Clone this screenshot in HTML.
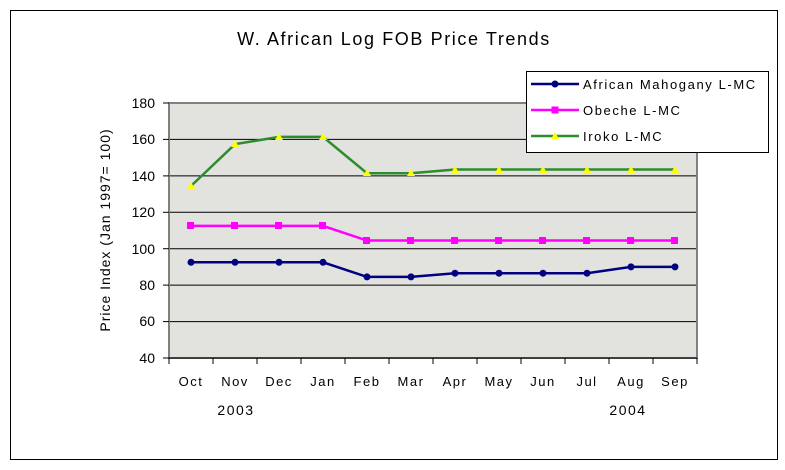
<!DOCTYPE html>
<html><head><style>body{margin:0;background:#fff}svg{display:block;font-family:"Liberation Sans",sans-serif}</style></head><body>
<svg width="785" height="470" xmlns="http://www.w3.org/2000/svg">
<rect x="0" y="0" width="785" height="470" fill="#fff"/>
<rect x="10.5" y="10.5" width="767" height="449" fill="none" stroke="#000"/>
<text x="394" y="45" font-size="18" text-anchor="middle" letter-spacing="1.6">W. African Log FOB Price Trends</text>
<rect x="169" y="103" width="528" height="255" fill="#e2e3df"/>
<g stroke="#000" stroke-width="1">
<line x1="169" y1="139.4" x2="697" y2="139.4"/><line x1="169" y1="175.9" x2="697" y2="175.9"/>
<line x1="169" y1="212.3" x2="697" y2="212.3"/><line x1="169" y1="248.7" x2="697" y2="248.7"/>
<line x1="169" y1="285.1" x2="697" y2="285.1"/><line x1="169" y1="321.6" x2="697" y2="321.6"/>
</g>
<rect x="169" y="103" width="528" height="255" fill="none" stroke="#808080" stroke-width="2"/>
<g stroke="#000"><line x1="163" y1="103" x2="169" y2="103"/><line x1="163" y1="139.4" x2="169" y2="139.4"/><line x1="163" y1="175.9" x2="169" y2="175.9"/><line x1="163" y1="212.3" x2="169" y2="212.3"/><line x1="163" y1="248.7" x2="169" y2="248.7"/><line x1="163" y1="285.1" x2="169" y2="285.1"/><line x1="163" y1="321.6" x2="169" y2="321.6"/><line x1="163" y1="358" x2="169" y2="358"/>
<line x1="169" y1="358" x2="697" y2="358"/>
<path d="M169 358v6M213 358v6M257 358v6M301 358v6M345 358v6M389 358v6M433 358v6M477 358v6M521 358v6M565 358v6M609 358v6M653 358v6M697 358v6"/></g>
<g font-size="14" text-anchor="end"><text x="155" y="108">180</text><text x="155" y="144">160</text><text x="155" y="181">140</text><text x="155" y="217">120</text><text x="155" y="254">100</text><text x="155" y="290">80</text><text x="155" y="326">60</text><text x="155" y="363">40</text></g>
<g font-size="13" text-anchor="middle" letter-spacing="1.5"><text x="191" y="386">Oct</text><text x="235" y="386">Nov</text><text x="279" y="386">Dec</text><text x="323" y="386">Jan</text><text x="367" y="386">Feb</text><text x="411" y="386">Mar</text><text x="455" y="386">Apr</text><text x="499" y="386">May</text><text x="543" y="386">Jun</text><text x="587" y="386">Jul</text><text x="631" y="386">Aug</text><text x="675" y="386">Sep</text>
<text x="236" y="415" font-size="14">2003</text><text x="628" y="415" font-size="14">2004</text></g>
<text transform="translate(110,230) rotate(-90)" font-size="14" text-anchor="middle" letter-spacing="1">Price Index (Jan 1997= 100)</text>
<polyline fill="none" stroke="#2e8b2e" stroke-width="2.5" points="191,186 235,144.2 279,136.9 323,136.9 367,173.2 411,173.2 455,169.5 499,169.5 543,169.5 587,169.5 631,169.5 675,169.5"/>
<g fill="#ffff00"><path d="M191,182l-4,7h8zM235,140l-4,7h8zM279,133l-4,7h8zM323,133l-4,7h8zM367,169l-4,7h8zM411,169l-4,7h8zM455,166l-4,7h8zM499,166l-4,7h8zM543,166l-4,7h8zM587,166l-4,7h8zM631,166l-4,7h8zM675,166l-4,7h8z"/></g>
<polyline fill="none" stroke="#ff00ff" stroke-width="2.5" points="191,225.9 235,225.9 279,225.9 323,225.9 367,240.5 411,240.5 455,240.5 499,240.5 543,240.5 587,240.5 631,240.5 675,240.5"/>
<g fill="#ff00ff"><rect x="187" y="222" width="7" height="7"/><rect x="231" y="222" width="7" height="7"/><rect x="275" y="222" width="7" height="7"/><rect x="319" y="222" width="7" height="7"/><rect x="363" y="237" width="7" height="7"/><rect x="407" y="237" width="7" height="7"/><rect x="451" y="237" width="7" height="7"/><rect x="495" y="237" width="7" height="7"/><rect x="539" y="237" width="7" height="7"/><rect x="583" y="237" width="7" height="7"/><rect x="627" y="237" width="7" height="7"/><rect x="671" y="237" width="7" height="7"/></g>
<polyline fill="none" stroke="#000080" stroke-width="2.5" points="191,262.3 235,262.3 279,262.3 323,262.3 367,276.9 411,276.9 455,273.2 499,273.2 543,273.2 587,273.2 631,266.9 675,266.9"/>
<g fill="#000080"><circle cx="191" cy="262.3" r="3.5"/><circle cx="235" cy="262.3" r="3.5"/><circle cx="279" cy="262.3" r="3.5"/><circle cx="323" cy="262.3" r="3.5"/><circle cx="367" cy="276.9" r="3.5"/><circle cx="411" cy="276.9" r="3.5"/><circle cx="455" cy="273.2" r="3.5"/><circle cx="499" cy="273.2" r="3.5"/><circle cx="543" cy="273.2" r="3.5"/><circle cx="587" cy="273.2" r="3.5"/><circle cx="631" cy="266.9" r="3.5"/><circle cx="675" cy="266.9" r="3.5"/></g>
<rect x="526.5" y="71.5" width="242" height="81" fill="#fff" stroke="#000"/>
<line x1="531" y1="84" x2="579" y2="84" stroke="#000080" stroke-width="2.5"/><circle cx="555" cy="84" r="3.5" fill="#000080"/>
<line x1="531" y1="110" x2="579" y2="110" stroke="#ff00ff" stroke-width="2.5"/><rect x="551.5" y="106.5" width="7" height="7" fill="#ff00ff"/>
<line x1="531" y1="136" x2="579" y2="136" stroke="#2e8b2e" stroke-width="2.5"/><path d="M555,132l-4,7h8z" fill="#ffff00"/>
<g font-size="13" letter-spacing="1.6"><text x="583" y="89">African Mahogany L-MC</text><text x="583" y="115">Obeche L-MC</text><text x="583" y="141">Iroko L-MC</text></g>
</svg>
</body></html>
